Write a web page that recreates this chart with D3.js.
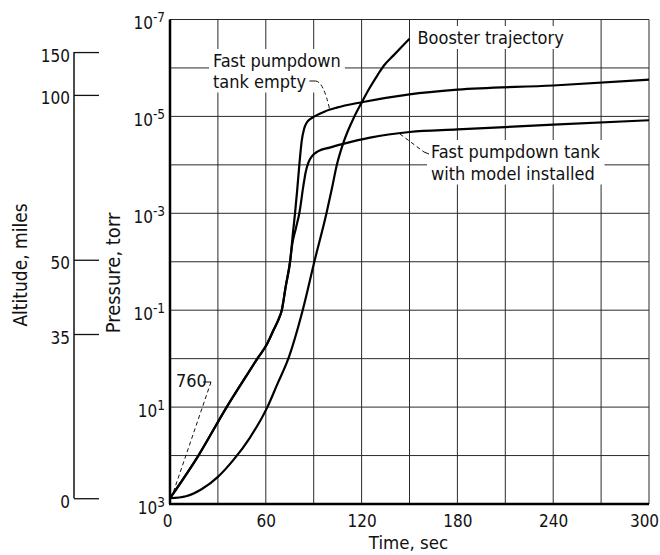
<!DOCTYPE html>
<html>
<head>
<meta charset="utf-8">
<script src="https://cdn.jsdelivr.net/npm/d3@7"></script>
<style>
  body { margin: 0; background: #fff; }
  svg text { font-family: "DejaVu Sans Condensed", "Liberation Sans Narrow", sans-serif; fill: #111; }
</style>
</head>
<body>
<svg id="chart" width="660" height="555"></svg>
<script>
// ticks and grid
const xGridTicks = [0, 30, 60, 90, 120, 150, 180, 210, 240, 270, 300];
const xLabelTicks = [0, 60, 120, 180, 240, 300];
const yGridTicks = [1e3, 1e2, 1e1, 1e0, 1e-1, 1e-2, 1e-3, 1e-4, 1e-5, 1e-6, 1e-7];
const yLabelTicks = [1e3, 1e1, 1e-1, 1e-3, 1e-5, 1e-7];

// altitude scale (miles) and the pressure each one sits at
const altitudeMiles = [0, 35, 50, 100, 150];
const altitudePressure = [760, 0.31, 0.0091, 3.6e-6, 4.7e-7];

// series: time (sec), pressure (torr)
const boosterTime = [0, 10, 20, 30, 40, 50, 61, 67.5, 74.1, 83.1, 90.4, 98, 101.3, 104.5, 109, 115.5, 120, 125, 130, 134, 140, 145, 150];
const boosterPressure = [760, 690, 490, 275, 120, 43, 10, 3.2, 1, 0.1, 0.01, 1e-3, 3.2e-4, 1e-4, 3.2e-5, 1e-5, 5.2e-6, 2.6e-6, 1.4e-6, 8.9e-7, 5.5e-7, 3.7e-7, 2.5e-7];

const emptyTime = [0, 17.8, 35.5, 47, 54.7, 60.6, 65, 67.8, 70, 72.5, 75.2, 77.2, 78.3, 79.7, 81, 82.5, 84, 85.6, 88, 90.5, 97, 104.4, 120, 150, 180, 240, 300];
const emptyPressure = [760, 100, 10, 2.5, 1, 0.51, 0.25, 0.16, 0.1, 0.032, 0.01, 2.2e-3, 1e-3, 3.2e-4, 1e-4, 3.2e-5, 1.8e-5, 1.35e-5, 1.12e-5, 1e-5, 7.9e-6, 6.6e-6, 5.1e-6, 3.5e-6, 2.8e-6, 2.3e-6, 1.74e-6];

const modelTime = [0, 17.8, 35.5, 47, 54.7, 60.6, 65, 67.8, 70, 72.5, 75.2, 76.5, 78.9, 81, 83.5, 85, 86.6, 89, 92.9, 100, 108.5, 125.3, 150, 180, 240, 300];
const modelPressure = [760, 100, 10, 2.5, 1, 0.51, 0.25, 0.16, 0.1, 0.032, 0.01, 4.5e-3, 2e-3, 1e-3, 2.75e-4, 1.4e-4, 9.1e-5, 6.6e-5, 5.2e-5, 4.4e-5, 3.7e-5, 2.75e-5, 2.1e-5, 1.86e-5, 1.48e-5, 1.2e-5];

const svg = d3.select('#chart');
const plot = { left: 170, right: 649, top: 19.5, bottom: 504 };

const x = d3.scaleLinear().domain([0, 300]).range([plot.left, plot.right]);
const y = d3.scaleLog().domain([1e3, 1e-7]).range([plot.bottom, plot.top]);

// grid
const grid = svg.append('g').attr('stroke', '#2a2a2a').attr('stroke-width', 1);
grid.selectAll('.vg').data(xGridTicks).join('line')
  .attr('x1', d => x(d)).attr('x2', d => x(d)).attr('y1', plot.top).attr('y2', plot.bottom);
grid.selectAll('.hg').data(yGridTicks).join('line')
  .attr('x1', plot.left).attr('x2', plot.right).attr('y1', d => y(d)).attr('y2', d => y(d));

// frame: heavy left and bottom
svg.append('line').attr('x1', plot.left).attr('x2', plot.left).attr('y1', plot.top).attr('y2', plot.bottom)
  .attr('stroke', '#000').attr('stroke-width', 2.5);
svg.append('line').attr('x1', plot.left - 1).attr('x2', plot.right).attr('y1', plot.bottom).attr('y2', plot.bottom)
  .attr('stroke', '#000').attr('stroke-width', 2.5);

// x axis labels
const xAx = svg.append('g').attr('transform', `translate(0,${plot.bottom})`)
  .call(d3.axisBottom(x).tickValues(xLabelTicks).tickSize(0).tickPadding(0));
xAx.select('.domain').remove();
xAx.selectAll('.tick text').attr('font-size', 17).attr('dy', null).attr('y', 23).attr('fill', '#111')
  .attr('dx', d => d === 0 ? -3 : d === 300 ? -5 : 0);

svg.append('text').attr('x', (plot.left + plot.right) / 2 - 1).attr('y', 549)
  .attr('text-anchor', 'middle').attr('font-size', 18.5).text('Time, sec');

// pressure axis labels with superscripts
const yAx = svg.append('g').attr('transform', `translate(${plot.left},0)`)
  .call(d3.axisLeft(y).tickValues(yLabelTicks).tickSize(0).tickPadding(5).tickFormat(() => ''));
yAx.select('.domain').remove();
yAx.selectAll('.tick text').attr('dy', null).attr('y', 9).attr('font-size', 17).attr('fill', '#111')
  .each(function (d) {
    const t = d3.select(this);
    t.append('tspan').text('10');
    t.append('tspan').attr('dy', -7).attr('font-size', 13.5).text(Math.round(Math.log10(d)));
  });

svg.append('text').attr('transform', `translate(120,273) rotate(-90)`)
  .attr('text-anchor', 'middle').attr('font-size', 20).text('Pressure, torr');

// altitude axis
const altX = 74;
svg.append('line').attr('x1', altX).attr('x2', altX)
  .attr('y1', y(altitudePressure[altitudePressure.length - 1])).attr('y2', y(altitudePressure[0]))
  .attr('stroke', '#111').attr('stroke-width', 1.5);
const altAx = svg.append('g').attr('transform', `translate(${altX},0)`)
  .call(d3.axisLeft(y).tickValues(altitudePressure).tickSize(-25).tickPadding(4)
    .tickFormat((d, i) => altitudeMiles[i]));
altAx.select('.domain').remove();
altAx.selectAll('.tick line').attr('stroke', '#111').attr('stroke-width', 1.3);
altAx.selectAll('.tick text').attr('dy', null).attr('y', 9).attr('font-size', 17).attr('fill', '#111');

svg.append('text').attr('transform', `translate(27,265) rotate(-90)`)
  .attr('text-anchor', 'middle').attr('font-size', 19).text('Altitude, miles');

// annotations go under the curves
const notes = svg.append('g');
function label(lines, tx, ty, gap) {
  const g = notes.append('g');
  const bg = g.append('rect').attr('fill', '#fff');
  const t = g.append('text').attr('font-size', 18);
  lines.forEach((s, i) => t.append('tspan').attr('x', tx).attr('y', ty + i * gap).text(s));
  const b = t.node().getBBox();
  bg.attr('x', b.x - 4).attr('y', b.y - 1).attr('width', b.width + 8).attr('height', b.height + 2);
  return t;
}
function leader(d) {
  return notes.append('path').attr('d', d).attr('fill', 'none')
    .attr('stroke', '#111').attr('stroke-width', 1).attr('stroke-dasharray', '4,3');
}
function tick(x1, y1, x2, y2) {
  notes.append('line').attr('x1', x1).attr('y1', y1).attr('x2', x2).attr('y2', y2)
    .attr('stroke', '#111').attr('stroke-width', 1);
}

// Fast pumpdown tank empty
const emptyLab = label(['Fast pumpdown', 'tank empty'], 213, 67, 20.5);
const e2 = emptyLab.selectAll('tspan').nodes()[1].getBBox();
const ex = e2.x + e2.width + 3, ey = 81;
tick(ex, ey, ex + 6, ey);
leader(`M${ex + 6},${ey} Q${x(96)},${ey} ${x(100)},${y(7.2e-6)}`);

// Booster trajectory
label(['Booster trajectory'], x(150) + 8, 44, 0);

// Fast pumpdown tank with model installed
label(['Fast pumpdown tank', 'with model installed'], 431, 158, 21.5);
leader(`M${x(144)},${y(2.3e-5)} L424,152`);
tick(424, 152, 429, 154);

// 760 torr start
label(['760'], 176, 387, 0);
tick(203, 382, 211, 382);
leader(`M211,382 L${x(0.8)},${y(760)}`);

// curves
const line = d3.line().curve(d3.curveMonotoneX).x(d => x(d[0])).y(d => y(d[1]));
const series = [
  d3.zip(boosterTime, boosterPressure),
  d3.zip(emptyTime, emptyPressure),
  d3.zip(modelTime, modelPressure)
];
svg.append('g').selectAll('path').data(series).join('path')
  .attr('fill', 'none').attr('stroke', '#000').attr('stroke-width', 2.2)
  .attr('stroke-linejoin', 'round').attr('d', line);
</script>
</body>
</html>
